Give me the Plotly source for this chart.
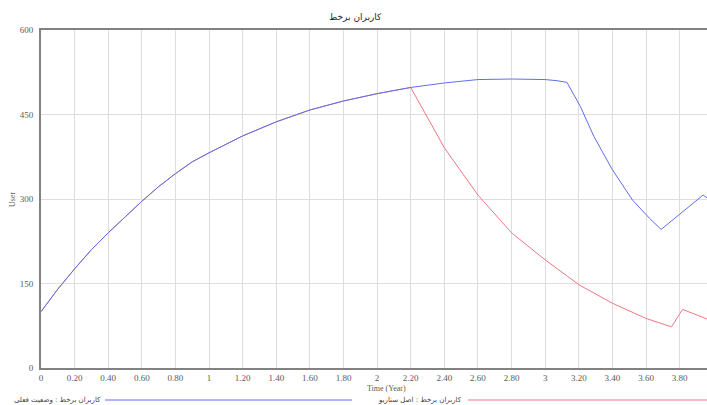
import plotly.graph_objects as go

title_text = "کاربران برخط"
series_current_name = "کاربران برخط : وضعیت فعلی"
series_scenario_name = "کاربران برخط : اصل سناریو"

# Current state (blue)
t_current = [0, 0.1, 0.2, 0.3, 0.4, 0.5, 0.6, 0.7, 0.8, 0.9, 1.0, 1.2, 1.4, 1.6, 1.8,
             2.0, 2.2, 2.4, 2.6, 2.8, 3.0, 3.07, 3.13, 3.21, 3.29, 3.4, 3.52, 3.62, 3.69,
             3.94, 3.963]
v_current = [100, 140, 176, 210, 240, 268, 296, 322, 345, 366, 382, 412, 437, 458, 474,
             487, 498, 506, 512, 513, 512, 510, 507, 464, 411, 352, 298, 266, 246,
             307, 302]

# Scenario (red)
t_scenario = [0, 0.1, 0.2, 0.3, 0.4, 0.5, 0.6, 0.7, 0.8, 0.9, 1.0, 1.2, 1.4, 1.6, 1.8,
              2.0, 2.2, 2.4, 2.6, 2.8, 3.0, 3.2, 3.4, 3.6, 3.752, 3.802, 3.818, 3.963]
v_scenario = [100, 140, 176, 210, 240, 268, 296, 322, 345, 366, 382, 412, 437, 458, 474,
              487, 498, 391, 307, 240, 192, 148, 115, 88, 73, 97, 104, 87]

x_tickvals = [0, 0.2, 0.4, 0.6, 0.8, 1, 1.2, 1.4, 1.6, 1.8, 2, 2.2, 2.4, 2.6, 2.8,
              3, 3.2, 3.4, 3.6, 3.8]
x_ticktext = ["0", "0.20", "0.40", "0.60", "0.80", "1", "1.20", "1.40", "1.60", "1.80",
              "2", "2.20", "2.40", "2.60", "2.80", "3", "3.20", "3.40", "3.60", "3.80"]
y_tickvals = [0, 150, 300, 450, 600]
y_ticktext = ["0", "150", "300", "450", "600"]

blue = "rgb(95,110,235)"
red = "rgb(235,120,130)"
axis_gray = "rgb(130,130,130)"
grid_gray = "rgb(222,222,222)"
tick_font = dict(family="Liberation Serif, serif", size=9, color="rgb(90,90,90)")
ar_font = dict(family="DejaVu Sans, sans-serif", size=7, color="rgb(60,60,60)")

L, R, T, B = 41, 707, 30, 368
W, H = 707, 405

fig = go.Figure()
fig.add_trace(go.Scatter(x=t_scenario, y=v_scenario, mode="lines",
                         line=dict(color=red, width=1), name=series_scenario_name,
                         showlegend=False, hoverinfo="skip"))
fig.add_trace(go.Scatter(x=t_current, y=v_current, mode="lines",
                         line=dict(color=blue, width=1), name=series_current_name,
                         showlegend=False, hoverinfo="skip"))

fig.update_layout(
    width=W, height=H,
    margin=dict(l=L, r=W - R, t=T, b=H - B, autoexpand=False),
    paper_bgcolor="white", plot_bgcolor="white",
    xaxis=dict(range=[0, 3.963], tickvals=x_tickvals, ticktext=x_ticktext,
               showgrid=True, gridcolor=grid_gray, gridwidth=1,
               showline=True, linecolor=axis_gray, linewidth=2, mirror=True,
               zeroline=False, ticks="", tickfont=tick_font, ticklabelstandoff=0),
    yaxis=dict(range=[0, 600], tickvals=y_tickvals, ticktext=y_ticktext,
               showgrid=True, gridcolor=grid_gray, gridwidth=1,
               showline=True, linecolor=axis_gray, linewidth=2,
               zeroline=False, ticks="", tickfont=tick_font, ticklabelstandoff=4),
)


def px_x(px):
    return (px - L) / (R - L)


def px_y(py):
    return (B - py) / (B - T)


fig.add_annotation(text=title_text, x=px_x(355), y=px_y(17), xref="paper", yref="paper",
                   showarrow=False,
                   font=dict(family="DejaVu Sans, sans-serif", size=9, color="rgb(30,30,30)"),
                   xanchor="center", yanchor="middle")
fig.add_annotation(text="User", x=px_x(12), y=px_y(200), xref="paper", yref="paper",
                   textangle=-90, showarrow=False,
                   font=dict(family="Liberation Serif, serif", size=8, color="rgb(90,90,90)"),
                   xanchor="center", yanchor="middle")
fig.add_annotation(text="Time (Year)", x=px_x(386), y=px_y(388), xref="paper", yref="paper",
                   showarrow=False,
                   font=dict(family="Liberation Serif, serif", size=8, color="rgb(90,90,90)"),
                   xanchor="center", yanchor="middle")

# legend (custom, bottom)
leg_y = 400
fig.add_annotation(text=series_current_name, x=px_x(103), y=px_y(leg_y), xref="paper", yref="paper",
                   showarrow=False, font=ar_font, xanchor="right", yanchor="middle")
fig.add_annotation(text=series_scenario_name, x=px_x(464), y=px_y(leg_y), xref="paper", yref="paper",
                   showarrow=False, font=ar_font, xanchor="right", yanchor="middle")
fig.add_shape(type="line", xref="paper", yref="paper", x0=px_x(105), x1=px_x(352),
              y0=px_y(leg_y), y1=px_y(leg_y), line=dict(color=blue, width=1))
fig.add_shape(type="line", xref="paper", yref="paper", x0=px_x(468), x1=px_x(707),
              y0=px_y(leg_y), y1=px_y(leg_y), line=dict(color=red, width=1))

fig.write_html("out.html", config={"displayModeBar": False},
               post_script="document.body.style.margin='0';document.body.style.padding='0';"
                           "document.documentElement.style.overflow='hidden';")
